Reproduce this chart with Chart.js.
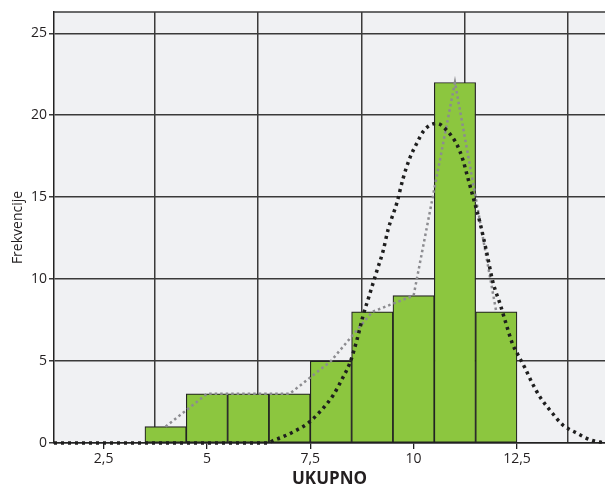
<!DOCTYPE html>
<html>
<head>
<meta charset="utf-8">
<script src="https://cdn.jsdelivr.net/npm/chart.js@4/dist/chart.umd.min.js"></script>
<style>
html,body{margin:0;padding:0;background:#ffffff;overflow:hidden;}
#wrap{width:605px;height:488px;position:relative;}
</style>
</head>
<body>
<div id="wrap"><canvas id="c" width="605" height="488"></canvas></div>
<script>
// ---- data ----
const binCenters = [4, 5, 6, 7, 8, 9, 10, 11, 12];
const frequencies = [1, 3, 3, 3, 5, 8, 9, 22, 8];

const normalX = [1.3, 6.48, 6.6, 6.81, 7.18, 7.44, 7.73, 8.05, 8.29, 8.46, 8.63, 8.77, 8.94, 9.11, 9.26, 9.38, 9.6, 9.74, 9.91, 10.08, 10.23, 10.4, 10.57, 10.83, 11.05, 11.19, 11.32, 11.44, 11.61, 11.77, 11.92, 12.09, 12.21, 12.4, 12.52, 12.69, 12.86, 13.06, 13.3, 13.61, 13.95, 14.27, 14.63];
const normalY = [0, 0, 0.15, 0.35, 0.8, 1.2, 1.9, 2.9, 4.0, 4.9, 6.3, 7.7, 9.1, 10.5, 11.7, 13.0, 14.7, 16.1, 17.4, 18.3, 19.0, 19.4, 19.5, 19.0, 18.2, 17.3, 16.1, 15.0, 13.4, 11.6, 9.8, 8.5, 7.5, 6.0, 5.4, 4.6, 3.7, 2.8, 2.0, 1.1, 0.6, 0.2, 0];

const xTicks = [2.5, 5, 7.5, 10, 12.5];
const yTicks = [0, 5, 10, 15, 20, 25];
const xGridLines = [3.73, 6.23, 8.74, 11.23, 13.73];

const xMin = 1.3, xMax = 14.63, yMin = 0, yMax = 26.3;

const txt = '#231f20';
const gridCol = '#3a3a3a';

const bgPlugin = {
  id: 'bg',
  beforeDraw(chart) {
    const a = chart.chartArea, ctx = chart.ctx;
    ctx.save();
    ctx.fillStyle = '#f0f1f3';
    ctx.fillRect(a.left, a.top, a.right - a.left, a.bottom - a.top);
    ctx.restore();
  },
  beforeDatasetsDraw(chart) {
    const a = chart.chartArea, ctx = chart.ctx;
    ctx.save();
    ctx.strokeStyle = gridCol;
    ctx.lineWidth = 1.5;
    ctx.beginPath();
    ctx.moveTo(a.left, a.top);
    ctx.lineTo(a.right, a.top);
    ctx.stroke();
    ctx.restore();
  }
};

new Chart(document.getElementById('c'), {
  type: 'bar',
  data: {
    datasets: [
      {
        type: 'line',
        label: 'normal',
        data: normalX.map((x, i) => ({x: x, y: normalY[i]})),
        borderColor: '#1e1e1e',
        borderWidth: 3.5,
        borderDash: [3, 4],
        borderCapStyle: 'butt',
        pointRadius: 0,
        tension: 0.4,
        cubicInterpolationMode: 'monotone',
        fill: false,
        clip: false,
        order: 1,
        xAxisID: 'x',
        yAxisID: 'y'
      },
      {
        type: 'line',
        label: 'polygon',
        data: binCenters.map((x, i) => ({x: x, y: frequencies[i]})),
        borderColor: '#8c8c90',
        borderWidth: 2.5,
        borderDash: [2.5, 3],
        borderJoinStyle: 'miter',
        pointRadius: 0,
        tension: 0,
        fill: false,
        clip: false,
        order: 2,
        xAxisID: 'x',
        yAxisID: 'y'
      },
      {
        type: 'bar',
        label: 'freq',
        data: binCenters.map((x, i) => ({x: x, y: frequencies[i]})),
        backgroundColor: '#8cc63f',
        borderColor: '#222222',
        borderWidth: 1.2,
        borderSkipped: false,
        barPercentage: 1,
        categoryPercentage: 1,
        order: 3,
        xAxisID: 'x',
        yAxisID: 'y'
      }
    ]
  },
  options: {
    responsive: false,
    animation: false,
    devicePixelRatio: 1,
    layout: {padding: {top: 12, right: 0, left: 0, bottom: 0}},
    plugins: {legend: {display: false}, tooltip: {enabled: false}},
    scales: {
      xg: {
        type: 'linear',
        position: 'bottom',
        offset: false,
        min: xMin, max: xMax,
        display: true,
        afterBuildTicks(s) { s.ticks = xGridLines.map(v => ({value: v})); },
        afterFit(s) { s.height = 0; },
        ticks: {display: false},
        grid: {color: gridCol, lineWidth: 1.5, drawTicks: false, drawOnChartArea: true, offset: false},
        border: {display: false}
      },
      x: {
        type: 'linear',
        position: 'bottom',
        offset: false,
        min: xMin, max: xMax,
        afterBuildTicks(s) { s.ticks = xTicks.map(v => ({value: v})); },
        afterFit(s) { s.height = 45; },
        ticks: {
          color: txt,
          font: {family: 'Open Sans', size: 14},
          padding: 2,
          maxRotation: 0,
          autoSkip: false,
          callback: v => String(v).replace('.', ',')
        },
        grid: {drawOnChartArea: false, drawTicks: true, tickLength: 6, color: '#222', lineWidth: 1.3, offset: false},
        border: {display: true, color: '#222', width: 1.5},
        title: {
          display: true,
          text: 'UKUPNO',
          color: txt,
          font: {family: 'Open Sans', size: 17, weight: 'bold', lineHeight: 1},
          padding: {top: 0, bottom: 0}
        }
      },
      y: {
        type: 'linear',
        position: 'left',
        min: yMin, max: yMax,
        afterBuildTicks(s) { s.ticks = yTicks.map(v => ({value: v})); },
        afterFit(s) { s.width = 54; },
        ticks: {
          color: txt,
          font: {family: 'Open Sans', size: 14},
          padding: 2,
          autoSkip: false
        },
        grid: {color: gridCol, lineWidth: 1.5, drawTicks: true, tickLength: 5},
        border: {display: true, color: '#222', width: 1.5},
        title: {
          display: true,
          text: 'Frekvencije',
          color: txt,
          font: {family: 'Open Sans', size: 14},
          padding: {top: 10, bottom: 0}
        }
      }
    }
  },
  plugins: [bgPlugin]
});
</script>
</body>
</html>
